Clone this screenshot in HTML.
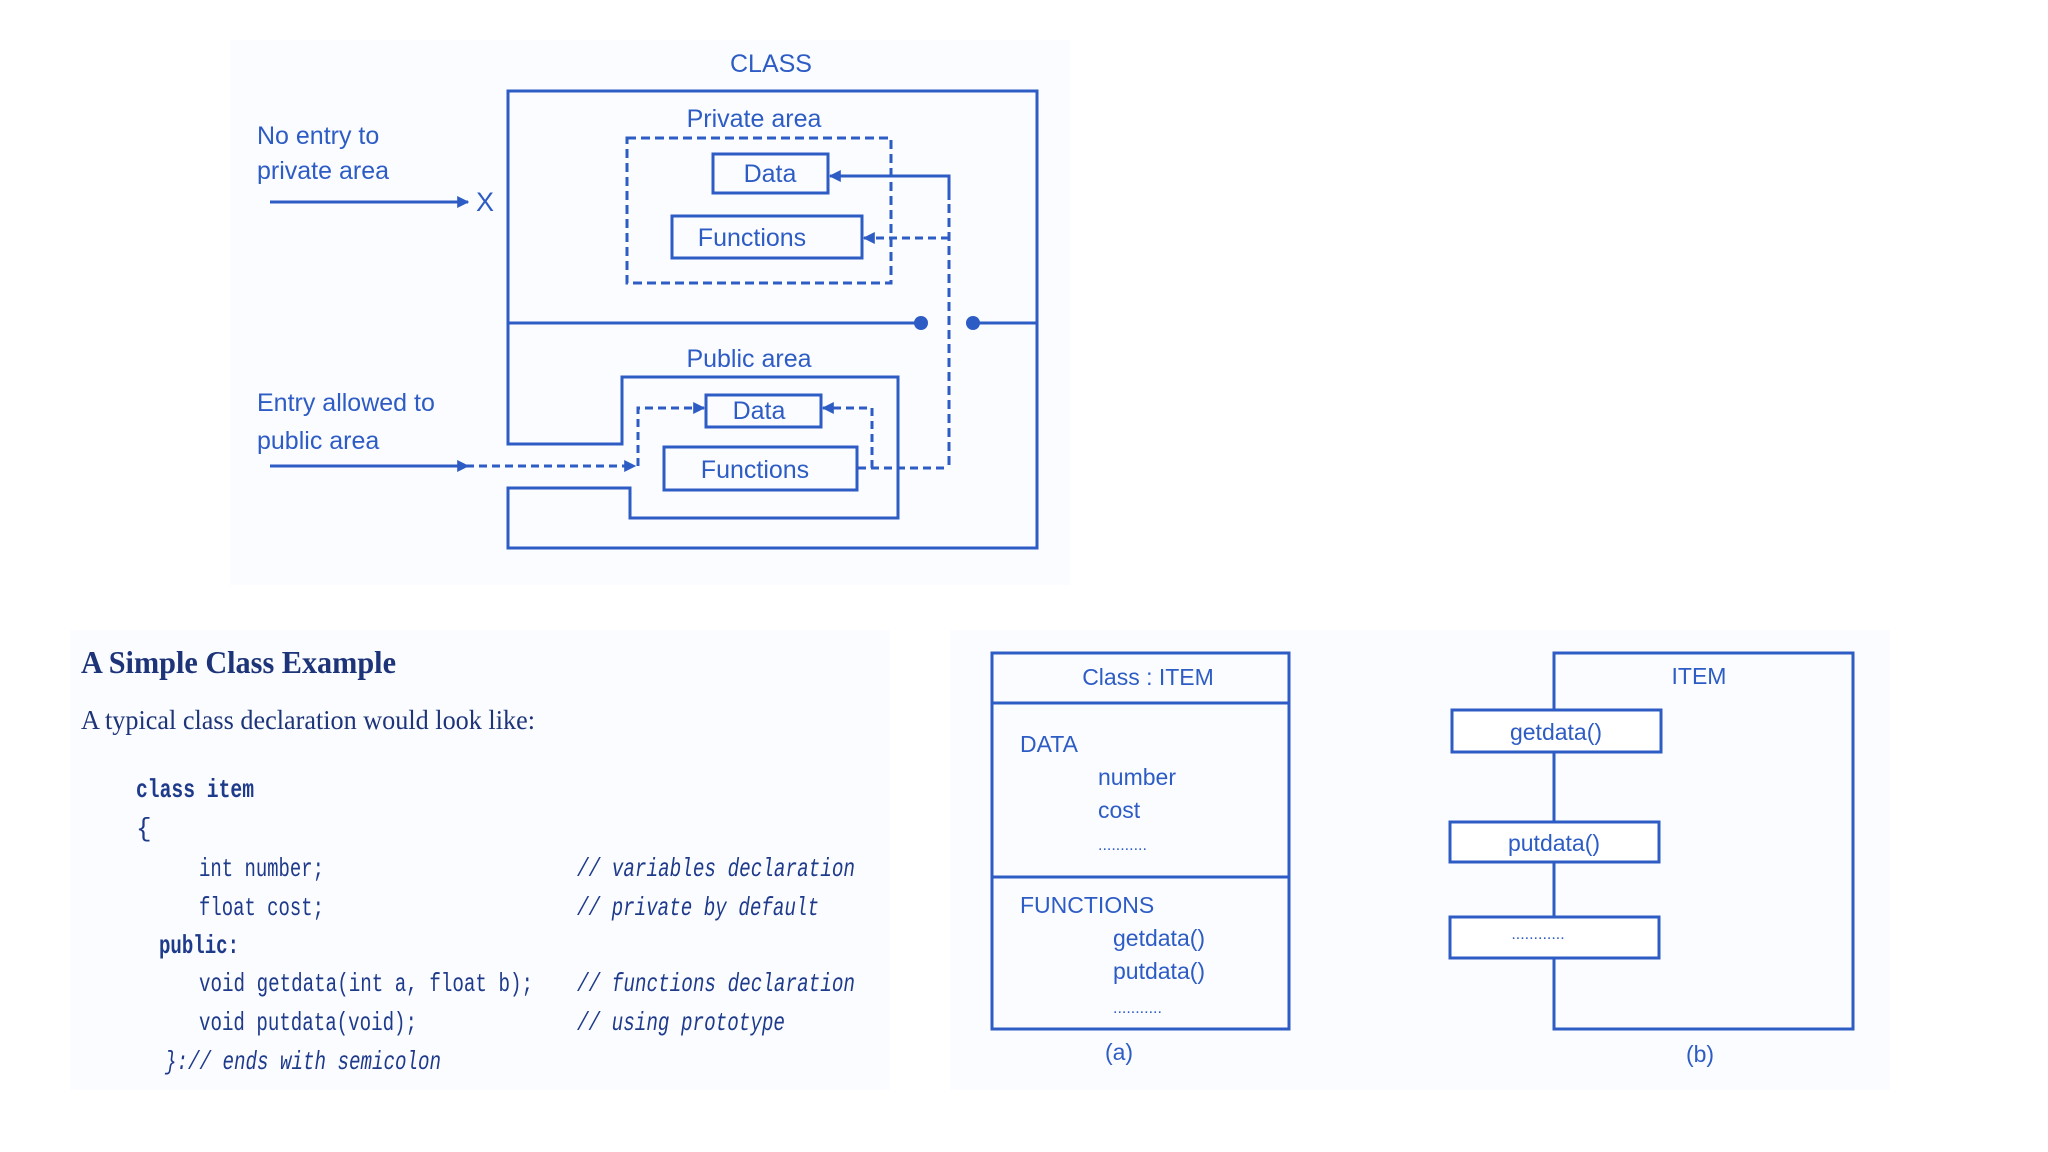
<!DOCTYPE html>
<html><head><meta charset="utf-8"><style>
html,body{margin:0;padding:0;background:#fff;}
svg{display:block}
.s{font-family:"Liberation Sans",sans-serif;fill:#2d5cc4}
.m{font-family:"Liberation Mono",monospace;fill:#1e3a8a}
.r{font-family:"Liberation Serif",serif;fill:#1d3479}
</style></head><body>
<svg width="2048" height="1152" viewBox="0 0 2048 1152" xmlns="http://www.w3.org/2000/svg">
<defs>
<marker id="a" viewBox="0 0 10 10" refX="9" refY="5" markerWidth="4" markerHeight="4" orient="auto"><path d="M0,0L10,5L0,10z" fill="#2d5cc4"/></marker>
</defs>
<rect x="230" y="40" width="840" height="545" fill="#fbfcff"/>
<rect x="70" y="630" width="820" height="460" fill="#fbfcff"/>
<rect x="950" y="630" width="940" height="460" fill="#fbfcff"/>
<g stroke="#2d5cc4" stroke-width="3" fill="none">
<path d="M508,91 H1037 V548 H508 V488 H630 V518 H898 V377 H622 V444 H508 Z"/>
<line x1="508" y1="323" x2="921" y2="323"/>
<line x1="973" y1="323" x2="1037" y2="323"/>
<rect x="627" y="138" width="264" height="145" stroke-dasharray="9,5"/>
<rect x="713" y="154" width="115" height="39"/>
<rect x="672" y="216" width="190" height="42"/>
<polyline points="949,190 949,176 830,176" marker-end="url(#a)"/>
<line x1="949" y1="238" x2="864" y2="238" stroke-dasharray="8,5" marker-end="url(#a)"/>
<line x1="949" y1="176" x2="949" y2="468" stroke-dasharray="9,5"/>
<line x1="949" y1="176" x2="949" y2="200"/>
<rect x="706" y="395" width="115" height="32"/>
<rect x="664" y="447" width="193" height="43"/>
<polyline points="858,468 949,468" stroke-dasharray="8,5"/>
<polyline points="872,468 872,408 823,408" stroke-dasharray="8,5" marker-end="url(#a)"/>
<polyline points="466,466 635,466" stroke-dasharray="8,5" marker-end="url(#a)"/>
<polyline points="638,466 638,408 704,408" stroke-dasharray="8,5" marker-end="url(#a)"/>
<line x1="270" y1="202" x2="468" y2="202" marker-end="url(#a)"/>
<line x1="270" y1="466" x2="468" y2="466" marker-end="url(#a)"/>
</g>
<circle cx="921" cy="323" r="7" fill="#2d5cc4"/>
<circle cx="973" cy="323" r="7" fill="#2d5cc4"/>
<g class="s" font-size="25">
<text x="771" y="72" text-anchor="middle">CLASS</text>
<text x="754" y="127" text-anchor="middle">Private area</text>
<text x="770" y="182" text-anchor="middle">Data</text>
<text x="752" y="246" text-anchor="middle">Functions</text>
<text x="749" y="367" text-anchor="middle">Public area</text>
<text x="759" y="419" text-anchor="middle">Data</text>
<text x="755" y="478" text-anchor="middle">Functions</text>
<text x="257" y="144">No entry to</text>
<text x="257" y="179">private area</text>
<text x="476" y="211" font-size="27">X</text>
<text x="257" y="411">Entry allowed to</text>
<text x="257" y="449">public area</text>
</g>
<text class="r" x="81" y="673" font-size="32" font-weight="bold" textLength="315" lengthAdjust="spacingAndGlyphs">A Simple Class Example</text>
<text class="r" x="81" y="729" font-size="27" textLength="454" lengthAdjust="spacingAndGlyphs">A typical class declaration would look like:</text>
<g class="m" font-size="26">
<text x="136" y="797" font-weight="bold" textLength="118" lengthAdjust="spacingAndGlyphs">class item</text>
<text x="136" y="836">{</text>
<text x="199" y="876" textLength="125" lengthAdjust="spacingAndGlyphs">int number;</text>
<text x="199" y="915" textLength="125" lengthAdjust="spacingAndGlyphs">float cost;</text>
<text x="159" y="953" font-weight="bold" textLength="80" lengthAdjust="spacingAndGlyphs">public:</text>
<text x="199" y="991" textLength="334" lengthAdjust="spacingAndGlyphs">void getdata(int a, float b);</text>
<text x="199" y="1030" textLength="218" lengthAdjust="spacingAndGlyphs">void putdata(void);</text>
<text x="165" y="1069" textLength="276" lengthAdjust="spacingAndGlyphs" font-style="italic">}:// ends with semicolon</text>
<g font-style="italic">
<text x="577" y="876" textLength="278" lengthAdjust="spacingAndGlyphs">// variables declaration</text>
<text x="577" y="915" textLength="242" lengthAdjust="spacingAndGlyphs">// private by default</text>
<text x="577" y="991" textLength="278" lengthAdjust="spacingAndGlyphs">// functions declaration</text>
<text x="577" y="1030" textLength="208" lengthAdjust="spacingAndGlyphs">// using prototype</text>
</g>
</g>
<g stroke="#2d5cc4" stroke-width="3" fill="none">
<rect x="992" y="653" width="297" height="376"/>
<line x1="992" y1="703" x2="1289" y2="703"/>
<line x1="992" y1="877" x2="1289" y2="877"/>
<rect x="1554" y="653" width="299" height="376"/>
</g>
<g fill="#fff" stroke="#2d5cc4" stroke-width="3">
<rect x="1452" y="710" width="209" height="42"/>
<rect x="1450" y="822" width="209" height="40"/>
<rect x="1450" y="917" width="209" height="41"/>
</g>
<g class="s" font-size="23">
<text x="1148" y="685" text-anchor="middle">Class : ITEM</text>
<text x="1020" y="752">DATA</text>
<text x="1098" y="785">number</text>
<text x="1098" y="818">cost</text>
<text x="1098" y="850" font-size="16">...........</text>
<text x="1020" y="913">FUNCTIONS</text>
<text x="1113" y="946">getdata()</text>
<text x="1113" y="979">putdata()</text>
<text x="1113" y="1013" font-size="16">...........</text>
<text x="1119" y="1060" text-anchor="middle">(a)</text>
<text x="1699" y="684" text-anchor="middle">ITEM</text>
<text x="1556" y="740" text-anchor="middle">getdata()</text>
<text x="1554" y="851" text-anchor="middle">putdata()</text>
<text x="1538" y="939" font-size="16" text-anchor="middle">............</text>
<text x="1700" y="1062" text-anchor="middle">(b)</text>
</g>
</svg>
</body></html>
